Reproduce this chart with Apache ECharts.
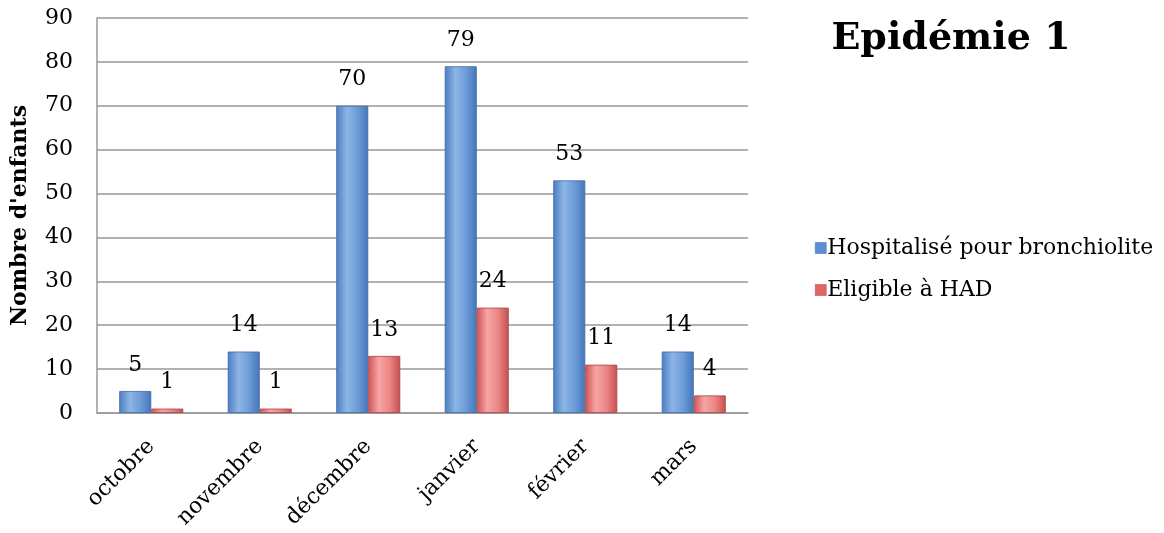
<!DOCTYPE html>
<html>
<head>
<meta charset="utf-8">
<script src="https://cdn.jsdelivr.net/npm/echarts@6/dist/echarts.min.js"></script>
<style>
  html, body { margin: 0; padding: 0; background: #ffffff; }
  #chart { width: 1164px; height: 533px; }
</style>
</head>
<body>
<div id="chart"></div>
<script>
// Monthly counts of children, bronchiolitis epidemic 1
const months = ['octobre', 'novembre', 'décembre', 'janvier', 'février', 'mars'];
const hospitalises = [5, 14, 70, 79, 53, 14];
const eligibles = [1, 1, 13, 24, 11, 4];
const yTicks = [0, 10, 20, 30, 40, 50, 60, 70, 80, 90];

const FONT = 'DejaVu Serif';
const TEXT_SIZE = 22;

function barGradient(stops) {
  return new echarts.graphic.LinearGradient(0, 0, 1, 0, stops.map((c, i) => ({
    offset: i / (stops.length - 1), color: c
  })));
}

const blueFill = barGradient(['#4a7dc2', '#8db5e6', '#6d9cd8', '#4475b8']);
const redFill = barGradient(['#d05454', '#f5a5a5', '#ec8585', '#c64f4f']);

const valueLabel = {
  show: true, position: 'top', distance: 15,
  fontFamily: FONT, fontSize: TEXT_SIZE, color: '#000'
};

const chart = echarts.init(document.getElementById('chart'));
chart.setOption({
  backgroundColor: '#ffffff',
  animation: false,
  title: {
    text: 'Epidémie 1',
    left: 946, top: 15,
    textAlign: 'center',
    textStyle: { fontFamily: FONT, fontWeight: 'bold', fontSize: 38, color: '#000' }
  },
  legend: {
    orient: 'vertical',
    left: 810, top: 232,
    itemWidth: 11, itemHeight: 11, itemGap: 20,
    icon: 'rect',
    textStyle: { fontFamily: FONT, fontSize: TEXT_SIZE, color: '#000', padding: [0, 0, 0, -4] },
    data: [
      { name: 'Hospitalisé pour bronchiolite', itemStyle: { color: '#5b8fd3', borderColor: '#3f6aa5', borderWidth: 0.5 } },
      { name: 'Eligible à HAD', itemStyle: { color: '#e06666', borderColor: '#a84444', borderWidth: 0.5 } }
    ]
  },
  grid: { left: 97, right: 416, top: 18, bottom: 120, outerBoundsMode: 'none', containLabel: false },
  xAxis: {
    type: 'category',
    data: months,
    axisLine: { lineStyle: { color: '#999999', width: 1.5 } },
    axisTick: { show: false },
    axisLabel: {
      rotate: 45, interval: 0, margin: 30,
      fontFamily: FONT, fontSize: TEXT_SIZE, color: '#000'
    }
  },
  yAxis: {
    type: 'value',
    min: yTicks[0], max: yTicks[yTicks.length - 1], interval: 10,
    name: "Nombre d'enfants",
    nameLocation: 'middle',
    nameGap: 66,
    nameTextStyle: { fontFamily: FONT, fontWeight: 'bold', fontSize: 22, color: '#000' },
    axisLine: { show: true, lineStyle: { color: '#999999', width: 1.5 } },
    axisTick: { show: false },
    axisLabel: { fontFamily: FONT, fontSize: TEXT_SIZE, color: '#000', margin: 24 },
    splitLine: { lineStyle: { color: '#999999', width: 1.5 } }
  },
  series: [
    {
      name: 'Hospitalisé pour bronchiolite',
      type: 'bar',
      data: hospitalises,
      barGap: '0%',
      barCategoryGap: '41%',
      itemStyle: { color: blueFill, borderColor: '#3f6aa5', borderWidth: 0.8 },
      label: valueLabel
    },
    {
      name: 'Eligible à HAD',
      type: 'bar',
      data: eligibles,
      itemStyle: { color: redFill, borderColor: '#a84444', borderWidth: 0.8 },
      label: valueLabel
    }
  ]
});
</script>
</body>
</html>
